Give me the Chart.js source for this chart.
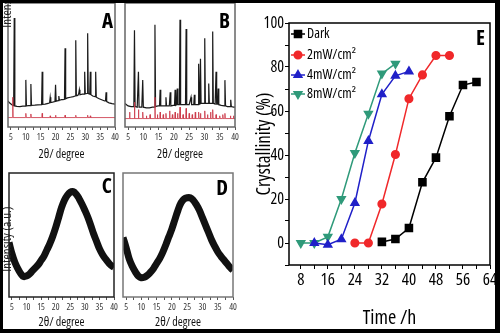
<!DOCTYPE html>
<html><head><meta charset="utf-8">
<script src="https://cdn.jsdelivr.net/npm/chart.js@4.4.0/dist/chart.umd.min.js"></script>
<style>
html,body{margin:0;padding:0;background:#fff;}
#wrap{position:relative;width:500px;height:333px;overflow:hidden;background:#fff;}
#wrap canvas{position:absolute;left:0;top:0;}
#border{position:absolute;left:0;top:0;width:500px;height:333px;box-sizing:border-box;border-style:solid;border-color:#000;border-width:3px 5px 4px 3px;pointer-events:none;z-index:10;}
.ylab{position:absolute;width:100px;height:14px;line-height:14px;text-align:center;font-family:'Open Sans',sans-serif;font-stretch:condensed;font-size:13px;color:#222;transform:rotate(-90deg);transform-origin:50% 50%;white-space:nowrap;z-index:5;}
</style></head>
<body>
<div id="wrap">
<canvas id="cA" width="500" height="333"></canvas>
<canvas id="cB" width="500" height="333"></canvas>
<canvas id="cC" width="500" height="333"></canvas>
<canvas id="cD" width="500" height="333"></canvas>
<canvas id="cE" width="500" height="333"></canvas>
<div class="ylab" style="left:-44px;top:-12px;">Intensity (a.u.)</div>
<div class="ylab" style="left:-44px;top:232px;">Intensity (a.u.)</div>
<div id="border"></div>
</div>
<script>
// ---------- DATA ----------
// XRD panels (2θ in degrees, intensity in arbitrary units 0-100)
const xrdTicks = [5,7.5,10,12.5,15,17.5,20,22.5,25,27.5,30,32.5,35,37.5,40];

const patternA = [[4,21],[4.5,19.5],[5,18.5],[5.5,17.5],[5.9,17.2],[6.1,88],[6.3,17],[7,16.6],[8,16.4],[9,16.8],[9.8,16.8],[10,38],[10.2,17],[11,17.2],[11.5,17.3],[11.7,34.6],[11.9,17.4],[13,17.6],[14,17.9],[15.3,18],[15.5,44.6],[15.7,18.2],[16.5,18.4],[17.5,19],[18,19.5],[18.2,24],[18.4,19.8],[19,20],[19.8,20.5],[20,34],[20.2,20.8],[20.9,21.2],[21.1,25],[21.3,21.5],[22,22],[22.5,22],[23,22.4],[23.2,63.5],[23.4,22.8],[24,23.5],[25,24],[26,24.5],[26.6,25],[26.8,70],[27,25.2],[27.5,25.5],[27.8,27],[28,30],[28.2,26],[29,26.5],[29.6,26.5],[29.8,44.6],[30,26.8],[30.6,27],[30.8,75.7],[31,27],[31.5,26.5],[31.7,44.6],[31.9,26],[32.5,25],[33.3,24.5],[33.5,44.6],[33.7,24],[34.5,23],[35.5,22],[36.5,21],[36.8,21],[37,28],[37.2,20.5],[38,19.5],[39,18.8],[40,18.4]];
const refBaseA = 7.6;
const refSticksA = [[5.6,24],[10,11],[11.7,10.5],[15.5,11],[18.2,9],[20,9.5],[23.2,9.5],[26.8,9.5],[30.8,9.5],[31.7,9]];

const patternB = [[4,19],[4.5,18],[5,17],[6,16.5],[6.9,16.5],[7.1,78],[7.3,16.5],[8,16],[8.2,16],[8.4,44.6],[8.6,16],[9.5,16],[9.8,37.8],[10,16],[11,15.5],[12,15.5],[13,16],[13.6,16],[13.8,82.4],[14,16.5],[14.8,17],[15.3,17],[15.5,30],[15.7,17],[16.5,17],[17.2,17],[17.4,24],[17.6,17],[18.5,17],[18.8,28],[19,17],[19.8,17.5],[20.2,17.5],[20.4,30],[20.6,17.5],[20.9,18],[21.1,31],[21.3,18],[21.8,18],[22,86.5],[22.2,18],[23,18],[23.8,18],[24,79],[24.2,18],[25,18],[25.6,24],[25.8,18],[26.5,18],[26.7,26],[26.9,18],[27.5,18],[27.9,18],[28.1,51],[28.3,18.5],[28.5,19],[28.7,55],[28.9,19],[29.5,19],[29.9,19],[30.1,71.6],[30.3,19],[30.8,19],[31.2,19],[31.4,35],[31.6,19],[32,19],[32.5,19],[32.7,77],[32.9,19],[33.5,18.5],[33.8,44.6],[34,18.5],[34.3,18.5],[34.5,31],[34.7,18],[35.5,17.5],[36.5,17],[36.7,37.8],[36.9,17],[37.5,16.5],[38.4,16.5],[38.6,22],[38.8,16.5],[39.5,16],[40,16]];
const refBaseB = 6.8;
const refSticksB = [[5.5,12],[7.1,20],[8.4,14],[9.8,12],[11,9],[12.2,10],[13.8,24],[14.6,10],[15.5,12],[16.5,10],[17.4,11],[18.6,13],[19.5,10],[20.4,12],[21.2,11],[22,16],[23,10],[24,15],[25,11],[26,10],[27,12],[28.1,12],[28.7,11],[30.1,13],[31,10],[32,12],[32.7,14],[33.8,10],[35,9],[36,10],[36.7,11],[38.5,9],[39.5,9]];

const patternC = [[4,44],[5,35],[6,28],[7,23],[8,19],[9,16.5],[10,17],[11,18.5],[12,21],[13,23.5],[14,26],[15,29.5],[16,33],[17,38],[18,43],[19,49],[20,56],[21,64],[22,72],[23,78],[24,82],[25,84.5],[26,85],[27,83],[28,79.5],[29,75],[30,70],[31,64.5],[32,58],[33,51],[34,45],[35,39],[36,34.5],[37,31],[38,28],[39,25.5],[40,24]];
const patternD = [[4,48],[5,40],[6,31],[7,25],[8,20.5],[9,17],[10,15.5],[11,16],[12,17.5],[13,20],[14,23],[15,27],[16,31],[17,36],[18,42],[19,48.5],[20,55],[21,62.5],[22,70],[23,76],[24,79],[25,80],[26,80],[27,78],[28,74.5],[29,70],[30,64],[31,58],[32,52],[33,46],[34,41],[35,36.5],[36,33],[37,30],[38,27],[39,24],[40,21.5]];

// Panel E: crystallinity (%) vs time (h)
const timeTicks = [8,12,16,20,24,28,32,36,40,44,48,52,56,60,64];
const crystTicks = [-10,0,10,20,30,40,50,60,70,80,90,100];
const seriesNames = ['Dark','2mW/cm\u00B2','4mW/cm\u00B2','8mW/cm\u00B2'];
const darkTime = [32,36,40,44,48,52,56,60];
const darkCryst = [0.5,1.8,6.8,27.6,38.8,57.6,71.8,73.2];
const mw2Time = [24,28,32,36,40,44,48,52];
const mw2Cryst = [0,0,17.7,40.2,65.6,76.4,85.2,85.2];
const mw4Time = [12,16,20,24,28,32,36,40];
const mw4Cryst = [0,-0.8,1.7,18.2,46.4,67.6,76,78];
const mw8Time = [8,12,16,20,24,28,32,36];
const mw8Cryst = [0,0,2.8,20,40.9,58.8,77,81.5];

// ---------- STYLE / HELPERS ----------
const FAM = "'Open Sans', sans-serif";
const CF = (size, bold) => ({family: FAM, size, weight: bold ? 'bold condensed' : 'condensed'});
const toXY = arr => arr.map(p => ({x:p[0], y:p[1]}));
const sticksToLine = (base, sticks) => {
  const pts = [{x:4, y:base}];
  sticks.forEach(s => { pts.push({x:s[0]-0.12,y:base},{x:s[0],y:s[1]},{x:s[0]+0.12,y:base}); });
  pts.push({x:40, y:base});
  return pts;
};

const framePlugin = {
  id: 'frame',
  afterDatasetsDraw(chart, args, o) {
    const {ctx, chartArea: a} = chart;
    ctx.save();
    ctx.strokeStyle = o.color || '#000';
    ctx.lineWidth = o.width || 1;
    ctx.strokeRect(a.left, a.top, a.right - a.left, a.bottom - a.top);
    if (o.letter) {
      ctx.font = o.letterFont;
      ctx.fillStyle = '#000';
      ctx.textAlign = 'right';
      ctx.textBaseline = 'alphabetic';
      ctx.fillText(o.letter, o.lx, o.ly);
    }
    ctx.restore();
  }
};

const legendPlugin = {
  id: 'eLegend',
  afterDraw(chart, args, o) {
    if (!o.rows) return;
    const ctx = chart.ctx;
    ctx.save();
    chart.data.datasets.forEach((ds, i) => {
      const y = o.rows[i];
      ctx.strokeStyle = ds.borderColor;
      ctx.lineWidth = 1.5;
      ctx.beginPath(); ctx.moveTo(o.x0, y); ctx.lineTo(o.x1, y); ctx.stroke();
      ctx.fillStyle = ds.backgroundColor;
      Chart.helpers.drawPoint(ctx, {pointStyle: ds.pointStyle, rotation: ds.pointRotation || 0, radius: ds.pointRadius, borderWidth: 1}, (o.x0 + o.x1) / 2, y);
      ctx.fillStyle = '#000';
      ctx.font = o.font;
      ctx.textAlign = 'left';
      ctx.textBaseline = 'middle';
      ctx.fillText(ds.label, o.tx, y);
    });
    ctx.restore();
  }
};
Chart.register(framePlugin, legendPlugin);

function xrdChart(id, datasets, area, titleBottom, frameOpts) {
  const H = titleBottom - area.b;
  return new Chart(document.getElementById(id), {
    type: 'line',
    data: {datasets},
    options: {
      responsive: false, animation: false, devicePixelRatio: 1,
      layout: {padding: {left: area.l, right: 500 - area.r, top: area.t, bottom: 333 - titleBottom}},
      plugins: {legend: {display: false}, tooltip: {enabled: false}, frame: frameOpts},
      elements: {point: {radius: 0}},
      scales: {
        x: {
          type: 'linear', min: 4, max: 40,
          afterBuildTicks: s => { s.ticks = xrdTicks.map(v => ({value: v})); },
          afterFit: s => { s.height = H; },
          grid: {drawOnChartArea: false, drawTicks: true, tickLength: 3, color: '#555'},
          border: {display: false},
          ticks: {autoSkip: false, maxRotation: 0, padding: 2, color: '#333', font: CF(9),
                  callback: v => (v % 5 === 0 ? String(v) : '')},
          title: {display: true, text: '2θ/ degree', color: '#111', font: CF(12), padding: 0}
        },
        y: {type: 'linear', min: 0, max: 100, display: false}
      }
    }
  });
}

const LETTER = `bold condensed 21px ${FAM}`;

// Panel A
xrdChart('cA', [
  {data: sticksToLine(refBaseA, refSticksA), borderColor: 'rgba(205,60,75,0.85)', borderWidth: 1, tension: 0},
  {data: toXY(patternA), borderColor: '#1a1a1a', borderWidth: 1.2, tension: 0}
], {l: 8, r: 115, t: 3, b: 127}, 162, {color: '#666', width: 1.5, letter: 'A', letterFont: LETTER, lx: 113, ly: 28});

// Panel B
xrdChart('cB', [
  {data: sticksToLine(refBaseB, refSticksB), borderColor: 'rgba(205,60,75,0.85)', borderWidth: 1, tension: 0},
  {data: toXY(patternB), borderColor: '#1a1a1a', borderWidth: 1.2, tension: 0}
], {l: 125, r: 235, t: 3, b: 127}, 162, {color: '#666', width: 1.5, letter: 'B', letterFont: LETTER, lx: 230, ly: 28});

// Panel C
xrdChart('cC', [
  {data: toXY(patternC), borderColor: '#111', borderWidth: 7, tension: 0.4}
], {l: 9, r: 114, t: 173, b: 297}, 330, {color: '#222', width: 1.5, letter: 'C', letterFont: LETTER, lx: 112, ly: 193});

// Panel D
xrdChart('cD', [
  {data: toXY(patternD), borderColor: '#111', borderWidth: 7, tension: 0.4}
], {l: 123, r: 233, t: 173, b: 297}, 330, {color: '#777', width: 1.5, letter: 'D', letterFont: LETTER, lx: 228, ly: 195});

// Panel E
const mk = (label, t, c, color, style, rot, r) => ({
  label, data: t.map((v, i) => ({x: v, y: c[i]})),
  borderColor: color, backgroundColor: color, pointBackgroundColor: color, pointBorderColor: color,
  pointStyle: style, pointRotation: rot, pointRadius: r, borderWidth: 1.5, tension: 0
});
new Chart(document.getElementById('cE'), {
  type: 'line',
  data: {datasets: [
    mk(seriesNames[0], darkTime, darkCryst, '#000000', 'rect', 0, 5),
    mk(seriesNames[1], mw2Time, mw2Cryst, '#f0282a', 'circle', 0, 3.8),
    mk(seriesNames[2], mw4Time, mw4Cryst, '#2020c8', 'triangle', 0, 4.5),
    mk(seriesNames[3], mw8Time, mw8Cryst, '#2f9a7a', 'triangle', 180, 4.5)
  ]},
  options: {
    responsive: false, animation: false, devicePixelRatio: 1,
    layout: {padding: {left: 253, right: 10, top: 23, bottom: 3}},
    plugins: {
      legend: {display: false}, tooltip: {enabled: false},
      frame: {color: '#000', width: 1.5, letter: 'E', letterFont: LETTER, lx: 485, ly: 45},
      eLegend: {rows: [34, 55, 75, 94], x0: 291, x1: 305, tx: 307, font: `condensed 14px ${FAM}`}
    },
    scales: {
      x: {
        type: 'linear', min: 4.5, max: 64,
        afterBuildTicks: s => { s.ticks = timeTicks.map(v => ({value: v})); },
        afterFit: s => { s.height = 65; },
        grid: {drawOnChartArea: false, drawTicks: true, tickLength: 4, color: '#000'},
        border: {display: false},
        ticks: {autoSkip: false, maxRotation: 0, padding: 1, color: '#000', font: CF(17),
                callback: v => (v % 8 === 0 ? String(v) : '')},
        title: {display: true, text: 'Time /h', color: '#000', font: CF(20), padding: 0}
      },
      y: {
        type: 'linear', min: -10, max: 100,
        afterBuildTicks: s => { s.ticks = crystTicks.map(v => ({value: v})); },
        afterFit: s => { s.width = 36; },
        grid: {drawOnChartArea: false, drawTicks: true, tickLength: 4, color: '#000'},
        border: {display: false},
        ticks: {autoSkip: false, padding: 1, color: '#000', font: CF(16),
                callback: v => (v % 20 === 0 ? String(v) : '')},
        title: {display: true, text: 'Crystallinity (%)', color: '#000', font: CF(19), padding: 0}
      }
    }
  }
});
</script>
</body></html>
